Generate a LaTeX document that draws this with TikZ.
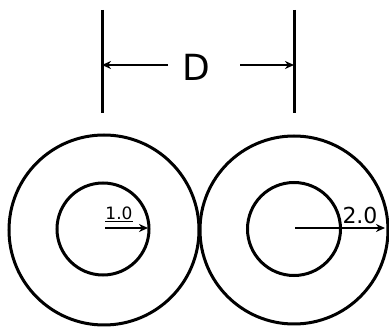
\documentclass[tikz,border=0pt]{standalone}
\usepackage{fontspec}
\setmainfont{DejaVu Sans}
\usetikzlibrary{arrows.meta}
\begin{document}
\begin{tikzpicture}[x=1pt,y=-1pt,
  ring/.style={draw,circle,line width=3pt,inner sep=0pt},
  dimline/.style={line width=3pt},
  arr/.style={line width=2.6pt,-{Stealth[length=9pt,width=8pt]}},
  lbl/.style={inner sep=0pt,font=\fontsize{17}{17}\selectfont}]
\useasboundingbox (0,0) rectangle (389,331);
% outer circles
\node[ring,minimum size=190pt] (LO) at (104,230) {};
\node[ring,minimum size=188pt] (RO) at (294,230) {};
% inner circles
\node[ring,minimum size=92pt] (LI) at (103,229) {};
\node[ring,minimum size=93pt] (RI) at (294,229) {};
% centers
\coordinate (LC) at (105,228);
\coordinate (RC) at (295,228);
\coordinate (LE) at (148,228);
\coordinate (RE) at (385,228);
\draw[arr] (LC) -- (LE);
\draw[arr] (RC) -- (RE);
\node[lbl,anchor=base] (l1) at (119,220) {\underline{1.0}};
\node[lbl,anchor=base,font=\fontsize{22}{22}\selectfont] (l2) at (360,224) {2.0};
% dimension
\coordinate (VLt) at (102,10);
\coordinate (VLb) at (102,113);
\coordinate (VRt) at (294,10);
\coordinate (VRb) at (294,113);
\draw[dimline] (VLt) -- (VLb);
\draw[dimline] (VRt) -- (VRb);
\node[inner sep=0pt,font=\fontsize{36}{36}\selectfont] (D) at (196,67) {D};
\coordinate (DL) at (102,65);
\coordinate (DR) at (294,65);
\coordinate (AL) at (168,65);
\coordinate (AR) at (240,65);
\draw[arr] (AL) -- (DL);
\draw[arr] (AR) -- (DR);
\end{tikzpicture}
\end{document}
